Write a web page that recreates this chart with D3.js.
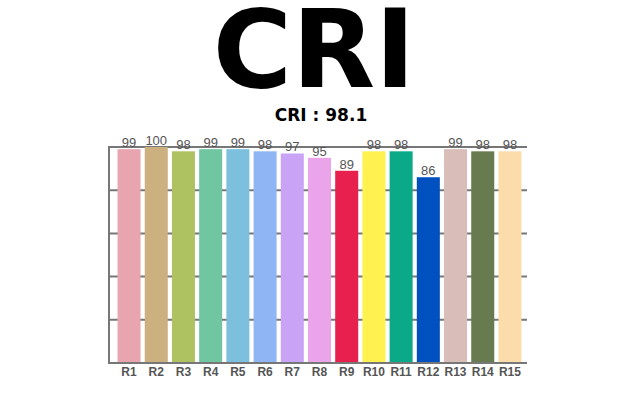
<!DOCTYPE html>
<html><head><meta charset="utf-8">
<script src="https://cdn.jsdelivr.net/npm/d3@7"></script>
<style>body{margin:0;background:#fff}svg{display:block}</style>
</head><body>
<svg id="c" width="640" height="400"></svg>
<script>
const categories = ["R1","R2","R3","R4","R5","R6","R7","R8","R9","R10","R11","R12","R13","R14","R15"];
const values = [99,100,98,99,99,98,97,95,89,98,98,86,99,98,98];
const colors = ["#e8a5b0","#cdb080","#aec262","#6fc6a0","#7cc0dd","#8fb5f5","#c9a3f5","#eaa5ea","#e8204e","#fff250","#0aaa88","#0050c0","#d8bdb8","#687b50","#fddcab"];
const gridTicks = [20,40,60,80,100];
const title = "CRI";
const subtitle = "CRI : 98.1";

const svg = d3.select("#c");
const x = d3.scaleBand().domain(categories).range([114,525]).paddingInner(0.154).paddingOuter(0.13);
const y = d3.scaleLinear().domain([0,100]).range([363,147]);

svg.append("text").attr("x",314).attr("y",87).attr("text-anchor","middle")
  .attr("font-family","DejaVu Sans").attr("font-weight","bold").attr("font-size",108)
  .attr("fill","#000").text(title);
svg.append("text").attr("x",321).attr("y",121).attr("text-anchor","middle")
  .attr("font-family","DejaVu Sans").attr("font-weight","bold").attr("font-size",17)
  .attr("fill","#000").text(subtitle);

// gridlines
svg.append("g").selectAll("line").data(gridTicks).join("line")
  .attr("x1",109).attr("x2",527).attr("y1",d=>y(d)).attr("y2",d=>y(d))
  .attr("stroke","#777").attr("stroke-width",2);

svg.append("g").selectAll("rect").data(values).join("rect")
  .attr("x",(d,i)=>x(categories[i])).attr("width",x.bandwidth())
  .attr("y",d=>y(d)).attr("height",d=>y(0)-y(d)).attr("fill",(d,i)=>colors[i]);

// axes lines
svg.append("line").attr("x1",109).attr("x2",109).attr("y1",146).attr("y2",364).attr("stroke","#777").attr("stroke-width",2);
svg.append("line").attr("x1",108).attr("x2",527).attr("y1",363).attr("y2",363).attr("stroke","#777").attr("stroke-width",2);

svg.append("g").selectAll("text").data(values).join("text")
  .attr("x",(d,i)=>x(categories[i])+x.bandwidth()/2).attr("y",d=>y(d)-2)
  .attr("text-anchor","middle").attr("font-family","Liberation Sans, Arial").attr("font-size",13)
  .attr("fill","#555").text(d=>d);

svg.append("g").selectAll("text").data(categories).join("text")
  .attr("x",d=>x(d)+x.bandwidth()/2).attr("y",376)
  .attr("text-anchor","middle").attr("font-family","Liberation Sans, Arial").attr("font-weight","bold").attr("font-size",12)
  .attr("fill","#555").text(d=>d);
</script>
</body></html>
